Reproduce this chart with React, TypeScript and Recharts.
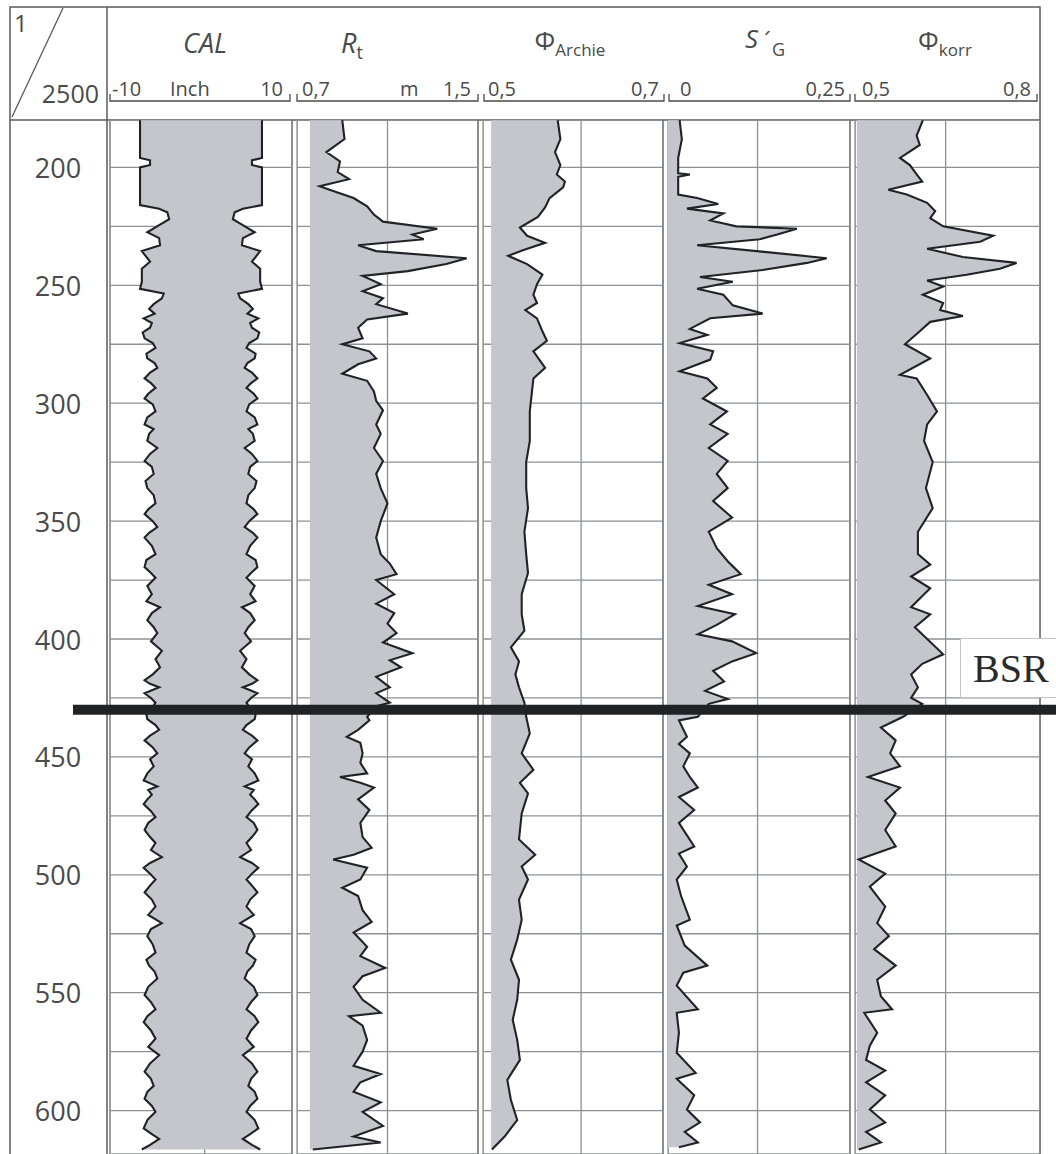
import { ComposedChart, Area, Line, XAxis, YAxis, CartesianGrid, ReferenceLine } from 'recharts';

// depth window of the log (m below sea floor)
const depthTop = 179.9;
const depthBottom = 618.4;
const depthTicks = [200, 225, 250, 275, 300, 325, 350, 375, 400, 425, 450, 475, 500, 525, 550, 575, 600];
const bsrDepth = 430;

// caliper, half hole size in inch (drawn mirrored)
const calDepth = [180, 196, 197, 199, 200, 216, 217.5, 219, 222, 224.5, 227.5, 230, 233, 235.5, 240, 243, 248.5, 251.5, 253.5, 255.5, 258, 260, 262, 264, 266, 268, 270, 272.5, 274.5, 276.5, 279, 281, 283, 285, 287, 289.5, 291.5, 293.5, 296, 298, 300.5, 303.5, 306, 309, 311, 313, 316, 319, 321.5, 324.5, 327, 330, 333, 336, 339, 342.5, 345, 347, 350, 352.5, 355, 357, 360.5, 364, 366.5, 369.5, 372, 374, 377.5, 381, 384, 386.5, 389, 392, 395, 397.5, 401, 405, 408.5, 412, 415, 417.5, 419, 420.5, 423, 425, 427, 430, 432, 434, 436.5, 438.5, 441, 443, 446, 448.5, 451, 454, 457, 460, 462.5, 464, 466, 468, 470, 473, 475.5, 478, 481, 484, 486.5, 489.5, 492.5, 495, 497, 499.5, 502, 505, 507.5, 510.5, 513.5, 517, 520.5, 523, 526, 529.5, 533, 536, 538.5, 541, 544, 547.5, 551, 554, 557, 560, 562.5, 566, 569.5, 573, 576.5, 580, 583.5, 586.5, 589.5, 592, 595, 598, 600.5, 604, 607.5, 610, 612, 614.5, 616.5];
const calHalf = [6.7, 6.7, 5.6, 5.6, 6.7, 6.7, 4.6, 3.7, 3.5, 4.6, 5.9, 4.6, 4.5, 6.5, 5.6, 6.5, 6.5, 6.7, 4.1, 4.3, 5.2, 5.7, 5.1, 6.3, 5.4, 5.6, 6.4, 6.2, 5.3, 5.0, 6.0, 5.9, 5.1, 4.8, 5.6, 6.2, 5.5, 5.0, 5.8, 6.2, 5.3, 5.0, 5.9, 6.2, 5.2, 5.7, 5.9, 4.8, 5.6, 6.2, 5.4, 5.2, 6.1, 5.9, 5.2, 5.0, 5.8, 6.2, 5.3, 4.8, 5.7, 6.2, 5.4, 5.0, 6.0, 6.2, 5.5, 5.0, 5.9, 5.4, 6.0, 4.5, 5.4, 5.9, 5.2, 4.8, 5.5, 4.3, 5.0, 4.5, 5.3, 6.2, 5.6, 4.6, 6.2, 5.5, 5.0, 5.5, 6.0, 5.9, 5.0, 4.6, 5.6, 6.2, 5.3, 4.8, 5.6, 5.2, 5.9, 6.3, 4.8, 5.8, 5.4, 5.9, 6.3, 5.5, 5.0, 5.8, 6.2, 5.6, 5.0, 5.5, 4.3, 5.6, 6.3, 5.6, 5.0, 5.7, 6.2, 5.4, 5.0, 5.8, 4.3, 5.5, 5.9, 5.3, 5.0, 6.0, 5.7, 5.1, 4.8, 5.8, 6.2, 5.5, 5.0, 5.9, 6.3, 5.5, 5.0, 5.8, 4.6, 5.6, 6.2, 5.5, 5.2, 5.9, 6.2, 5.4, 5.0, 5.9, 6.3, 5.4, 4.6, 5.6, 6.5];

// true resistivity Rt (Ohm m)
const rtDepth = [180, 188, 193.5, 197.5, 202, 205, 208, 210, 213, 216.5, 220, 223, 226, 228.5, 230.5, 233, 235.5, 238.5, 241, 244, 246, 249.5, 252.5, 255.5, 258, 262, 264.5, 268, 272.5, 275, 278, 281, 283.5, 287.5, 290.5, 295, 299, 303, 309, 313, 319, 324.5, 330, 336, 342.5, 350, 357, 364, 368, 372.5, 375, 381, 385, 389, 393.5, 397.5, 401.5, 406, 409, 412, 416, 420.5, 423, 427, 428.5, 433, 434.5, 438.5, 441.5, 444, 448.5, 452.5, 457, 458.5, 461, 463, 468, 472.5, 478, 484, 488.5, 491.5, 493.5, 497, 502, 505.5, 509, 515, 520, 524.5, 530.5, 534.5, 539.5, 543, 547.5, 553, 558.5, 560, 564, 570, 575, 581, 584.5, 588, 592, 596.5, 600.5, 606.5, 611, 613.5, 616.5];
const rtValue = [0.9, 0.91, 0.83, 0.89, 0.88, 0.93, 0.8, 0.86, 0.95, 1.01, 1.04, 1.08, 1.32, 1.21, 1.26, 0.97, 1.05, 1.45, 1.36, 1.19, 0.99, 1.07, 0.99, 1.08, 1.05, 1.19, 1.01, 0.97, 0.99, 0.9, 1.02, 1.05, 0.97, 0.9, 1.01, 1.04, 1.05, 1.08, 1.05, 1.07, 1.04, 1.08, 1.05, 1.07, 1.1, 1.07, 1.05, 1.07, 1.11, 1.14, 1.05, 1.13, 1.05, 1.13, 1.1, 1.14, 1.08, 1.21, 1.11, 1.16, 1.05, 1.11, 1.05, 1.11, 1.05, 1.01, 1.02, 0.97, 0.92, 0.98, 0.99, 0.98, 1.01, 0.89, 0.98, 1.04, 0.97, 1.02, 0.98, 0.99, 1.03, 0.95, 0.86, 1.01, 0.98, 0.9, 0.97, 0.99, 1.03, 0.95, 1.01, 0.98, 1.09, 0.99, 0.95, 0.99, 1.07, 0.93, 0.99, 1.01, 0.99, 0.95, 1.07, 0.98, 0.95, 1.07, 0.99, 1.08, 0.95, 1.07, 0.77];

// Archie porosity
const archieDepth = [180, 188, 193.5, 199, 203, 206, 208.5, 213, 217, 221, 225.5, 229, 232, 235, 237.5, 241, 245.5, 249.5, 254, 257.5, 260.5, 264, 269.5, 273.5, 278, 285, 289.5, 296.5, 303.5, 309, 316, 325, 336, 344.5, 354.5, 364, 372, 381, 389.5, 396.5, 403.5, 409.5, 415, 420.5, 427, 433, 440, 448.5, 455.5, 461, 465.5, 474, 485, 491.5, 496.5, 502, 510.5, 519, 527.5, 536, 544.5, 553, 561.5, 570, 578.5, 587, 595.5, 604, 611, 616.5];
const archieValue = [0.583, 0.586, 0.58, 0.586, 0.582, 0.591, 0.589, 0.574, 0.569, 0.561, 0.541, 0.549, 0.569, 0.545, 0.528, 0.549, 0.566, 0.56, 0.556, 0.56, 0.547, 0.56, 0.566, 0.571, 0.556, 0.569, 0.556, 0.554, 0.552, 0.552, 0.552, 0.548, 0.548, 0.55, 0.546, 0.548, 0.55, 0.543, 0.543, 0.546, 0.531, 0.54, 0.536, 0.54, 0.546, 0.548, 0.552, 0.543, 0.556, 0.541, 0.55, 0.543, 0.54, 0.558, 0.543, 0.55, 0.54, 0.543, 0.538, 0.531, 0.54, 0.538, 0.533, 0.538, 0.541, 0.527, 0.531, 0.538, 0.524, 0.51];

// gas saturation S'G
const sgDepth = [180, 188, 196, 202.5, 203, 204, 211.5, 213, 215.5, 217.5, 219.5, 222.5, 225, 226, 228.5, 230.5, 233, 235.5, 238.5, 240.5, 243.5, 246.5, 248.5, 251.5, 254, 258.5, 262, 264, 268.5, 271, 274.5, 278, 281.5, 286.5, 289.5, 293.5, 298, 303.5, 309, 313, 319, 324.5, 330, 336, 341.5, 348.5, 354.5, 361.5, 367, 372.5, 377, 381, 386, 389.5, 394, 398, 401, 406, 409.5, 413.5, 418, 422, 425.5, 427.5, 433, 434.5, 441.5, 444.5, 448.5, 454, 458.5, 463, 467, 472.5, 478, 488, 491, 496.5, 502, 509, 519, 521.5, 530, 538.5, 541.5, 547, 557, 558.5, 567, 575.5, 584, 586.5, 593.5, 599.5, 605, 609, 613.5, 615.5];
const sgValue = [0.016, 0.019, 0.014, 0.014, 0.03, 0.014, 0.014, 0.04, 0.069, 0.026, 0.076, 0.058, 0.094, 0.177, 0.15, 0.126, 0.04, 0.122, 0.218, 0.191, 0.13, 0.044, 0.089, 0.04, 0.076, 0.089, 0.13, 0.058, 0.03, 0.054, 0.016, 0.062, 0.058, 0.016, 0.054, 0.067, 0.048, 0.081, 0.058, 0.082, 0.056, 0.082, 0.067, 0.082, 0.062, 0.088, 0.056, 0.067, 0.082, 0.1, 0.056, 0.088, 0.041, 0.092, 0.067, 0.041, 0.088, 0.121, 0.088, 0.062, 0.077, 0.051, 0.082, 0.056, 0.041, 0.015, 0.026, 0.015, 0.03, 0.021, 0.03, 0.041, 0.015, 0.036, 0.015, 0.036, 0.015, 0.026, 0.012, 0.018, 0.03, 0.012, 0.023, 0.054, 0.021, 0.012, 0.041, 0.012, 0.015, 0.012, 0.038, 0.012, 0.036, 0.026, 0.044, 0.023, 0.041, 0.015];

// corrected porosity
const korrDepth = [180, 186.5, 190.5, 196, 199, 203, 206, 209.5, 211.5, 215, 218.5, 221.5, 225, 229, 231.5, 234.5, 238, 240.5, 243, 245.5, 248, 250.5, 254, 257.5, 260.5, 263, 265.5, 269.5, 275, 281, 288, 289.5, 296.5, 303.5, 309, 316, 325, 336, 344.5, 354.5, 364, 368.5, 373.5, 378.5, 386.5, 389.5, 395, 399.5, 406.5, 410.5, 415, 420.5, 425, 427.5, 433, 437.5, 443, 448.5, 454, 458.5, 463, 468.5, 474, 481, 488, 493.5, 499.5, 505, 513.5, 520.5, 526, 531.5, 538.5, 544.5, 551.5, 557, 558.5, 567, 572.5, 578.5, 583, 588, 593.5, 599.5, 605, 609, 613.5, 616.5];
const korrValue = [0.61, 0.6, 0.605, 0.573, 0.589, 0.6, 0.609, 0.554, 0.584, 0.617, 0.63, 0.622, 0.643, 0.724, 0.703, 0.617, 0.675, 0.762, 0.735, 0.681, 0.617, 0.643, 0.61, 0.643, 0.638, 0.675, 0.622, 0.605, 0.581, 0.622, 0.573, 0.6, 0.617, 0.633, 0.617, 0.612, 0.626, 0.615, 0.626, 0.602, 0.602, 0.622, 0.591, 0.622, 0.591, 0.622, 0.597, 0.615, 0.643, 0.609, 0.591, 0.602, 0.591, 0.609, 0.578, 0.542, 0.566, 0.557, 0.573, 0.521, 0.573, 0.549, 0.566, 0.549, 0.566, 0.506, 0.549, 0.524, 0.549, 0.536, 0.555, 0.531, 0.566, 0.536, 0.542, 0.56, 0.515, 0.536, 0.524, 0.518, 0.549, 0.518, 0.549, 0.524, 0.549, 0.518, 0.542, 0.506];

const zip = (d: number[], v: number[]) => d.map((depth, i) => ({ depth, value: v[i] }));

const FILL = '#c4c6cb';
const INK = '#1f2326';
const GRID = '#8e9093';
const TEXT = '#4a4a4a';
const FONT = '"Open Sans", sans-serif';

const DepthTick = (props: any) => {
  const { x, y, payload } = props;
  if (payload.value % 50 !== 0) return <g />;
  return (
    <text x={x - 44} y={y} textAnchor="middle" dominantBaseline="central" fontSize={27} fill={TEXT} fontFamily={FONT}>
      {payload.value}
    </text>
  );
};

type TrackProps = {
  data: { depth: number; value: number }[];
  left: number;
  width: number;
  domain: [number, number];
  grid: number[];
  base?: number;
  mirror?: boolean;
  axisWidth?: number;
};

function Track({ data, left, width, domain, grid, base, mirror, axisWidth = 0 }: TrackProps) {
  return (
    <div style={{ position: 'absolute', left, top: 120 }}>
      <ComposedChart layout="vertical" width={width} height={1034} data={data} margin={{ top: 0, right: 0, bottom: 0, left: 0 }}>
        <CartesianGrid stroke={GRID} strokeWidth={1.3} />
        <XAxis type="number" domain={domain} ticks={grid} hide allowDataOverflow />
        <YAxis
          type="number"
          dataKey="depth"
          domain={[depthTop, depthBottom]}
          allowDataOverflow
          ticks={depthTicks}
          interval={0}
          hide={!axisWidth}
          width={axisWidth || 60}
          axisLine={false}
          tickLine={false}
          tick={DepthTick}
        />
        {mirror ? (
          <Area type="linear" dataKey={(d: any) => [-d.value, d.value]} fill={FILL} fillOpacity={1} stroke="none" isAnimationActive={false} />
        ) : (
          <Area type="linear" dataKey="value" baseValue={base} fill={FILL} fillOpacity={1} stroke="none" isAnimationActive={false} />
        )}
        {mirror && (
          <Line type="linear" dataKey={(d: any) => -d.value} stroke={INK} strokeWidth={2.1} dot={false} isAnimationActive={false} />
        )}
        <Line type="linear" dataKey="value" stroke={INK} strokeWidth={2.1} dot={false} isAnimationActive={false} />
      </ComposedChart>
    </div>
  );
}

// header scale labels per track: [text, x, anchor]
const scaleLabels: [string, number, 'start' | 'end'][] = [
  ['-10', 112, 'start'], ['Inch', 170, 'start'], ['10', 283, 'end'],
  ['0,7', 302, 'start'], ['m', 400, 'start'], ['1,5', 471, 'end'],
  ['0,5', 488, 'start'], ['0,7', 659, 'end'],
  ['0', 680, 'start'], ['0,25', 845, 'end'],
  ['0,5', 862, 'start'], ['0,8', 1031, 'end'],
];
const brackets = [[110, 290], [297, 478], [484, 664], [669, 850], [855, 1037]];
const trackLines = [110, 292, 297, 478, 483, 663, 668, 850, 855];

function Frame() {
  return (
    <svg width={1056} height={1154} style={{ position: 'absolute', left: 0, top: 0 }}>
      <rect x={10} y={7} width={1030} height={1200} fill="#fff" stroke="#5a5a5a" strokeWidth={1.5} />
      <line x1={10} y1={120} x2={1040} y2={120} stroke="#5a5a5a" strokeWidth={1.5} />
      <line x1={107} y1={7} x2={107} y2={1154} stroke="#5a5a5a" strokeWidth={1.5} />
      <line x1={12} y1={117} x2={63} y2={8} stroke="#5a5a5a" strokeWidth={1.3} />
      {trackLines.map((x, i) => (
        <line key={i} x1={x} y1={120} x2={x} y2={1154} stroke={i % 2 === 0 ? '#9a9a9a' : '#5a5a5a'} strokeWidth={1.4} />
      ))}
      <text x={14} y={32} fontSize={24} fill={TEXT} fontFamily={FONT}>1</text>
      <text x={99} y={103} fontSize={25} fill={TEXT} fontFamily={FONT} textAnchor="end">2500</text>
      <g fontFamily={FONT} fill={TEXT}>
        <text x={205} y={53} fontSize={27} fontStyle="italic" textAnchor="middle">CAL</text>
        <text x={352} y={53} fontSize={27} fontStyle="italic" textAnchor="middle">
          R<tspan fontSize={18} fontStyle="normal" dy={6}>t</tspan>
        </text>
        <text x={570} y={50} fontSize={26} textAnchor="middle">
          Φ<tspan fontSize={17} dy={6}>Archie</tspan>
        </text>
        <text x={765} y={48} fontSize={26} fontStyle="italic" textAnchor="middle">
          S<tspan fontFamily='"DejaVu Sans", sans-serif' fontStyle="normal" fontSize={22} dx={3}>´</tspan>
          <tspan fontSize={18} fontStyle="normal" dy={8}>G</tspan>
        </text>
        <text x={945} y={50} fontSize={26} textAnchor="middle">
          Φ<tspan fontSize={17} dy={6}>korr</tspan>
        </text>
        {scaleLabels.map(([t, x, a], i) => (
          <text key={i} x={x} y={96} fontSize={20} textAnchor={a}>{t}</text>
        ))}
      </g>
      {brackets.map(([a, b], i) => (
        <path key={i} d={`M${a} 94 V101 H${b} V94`} fill="none" stroke="#4a4a4a" strokeWidth={1.3} />
      ))}
    </svg>
  );
}

export default function App() {
  const bsrRows = [{ x: 0.5, depth: bsrDepth }];
  return (
    <div style={{ position: 'absolute', left: 0, top: 0, width: 1056, height: 1154, overflow: 'hidden', background: '#fff' }}>
      <Frame />
      <Track data={zip(calDepth, calHalf)} left={10} width={282} domain={[-10, 10]} grid={[0.4]} mirror axisWidth={100} />
      <Track data={zip(rtDepth, rtValue)} left={297} width={181} domain={[0.7, 1.5]} grid={[1.1]} base={0.757} />
      <Track data={zip(archieDepth, archieValue)} left={483} width={180} domain={[0.5, 0.7]} grid={[0.609]} base={0.509} />
      <Track data={zip(sgDepth, sgValue)} left={668} width={182} domain={[0, 0.25]} grid={[0.123]} base={0} />
      <Track data={zip(korrDepth, korrValue)} left={855} width={185} domain={[0.5, 0.8]} grid={[0.647]} base={0.503} />
      <div style={{ position: 'absolute', left: 73, top: 120 }}>
        <ComposedChart width={983} height={1034} data={bsrRows} margin={{ top: 0, right: 0, bottom: 0, left: 0 }}>
          <XAxis type="number" dataKey="x" domain={[0, 1]} hide />
          <YAxis type="number" dataKey="depth" domain={[depthTop, depthBottom]} reversed allowDataOverflow hide />
          <ReferenceLine y={bsrDepth} stroke={INK} strokeWidth={10} />
        </ComposedChart>
      </div>
      <div
        style={{
          position: 'absolute', left: 960, top: 638, width: 110, height: 60,
          border: '1px solid #c4c4c4', background: '#fff', boxSizing: 'border-box',
          fontFamily: '"Liberation Serif", serif', fontSize: 40, color: '#2a2a2a',
          lineHeight: '60px', paddingLeft: 12,
        }}
      >
        BSR
      </div>
    </div>
  );
}
